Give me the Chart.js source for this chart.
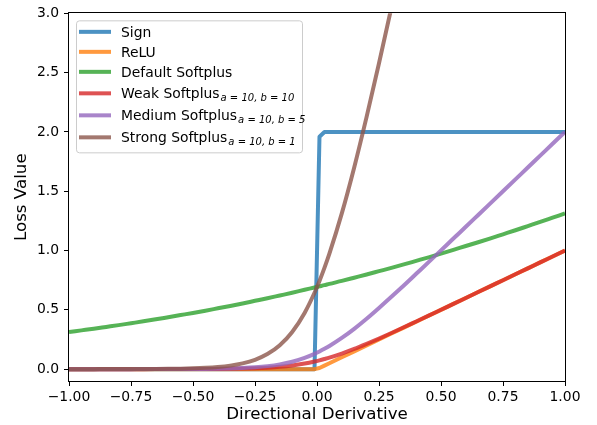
<!DOCTYPE html>
<html>
<head>
<meta charset="utf-8">
<script src="https://cdn.jsdelivr.net/npm/chart.js@4.4.0/dist/chart.umd.min.js"></script>
<style>
html, body { margin: 0; padding: 0; background: #fff; }
</style>
</head>
<body>
<canvas id="loss-chart" width="597" height="425"></canvas>
<script>
// directional derivative samples
var xValues = [-1.00, -0.95, -0.90, -0.85, -0.80, -0.75, -0.70, -0.65, -0.60, -0.55,
               -0.50, -0.45, -0.40, -0.35, -0.30, -0.25, -0.20, -0.15, -0.10, -0.05,
               -0.01, 0.01, 0.03,
               0.05, 0.10, 0.15, 0.20, 0.25, 0.30, 0.35, 0.40, 0.45, 0.50,
               0.55, 0.60, 0.65, 0.70, 0.75, 0.80, 0.85, 0.90, 0.95, 1.00];

var signData = [0, 0, 0, 0, 0, 0, 0, 0, 0, 0,
                0, 0, 0, 0, 0, 0, 0, 0, 0, 0,
                0, 1.96, 2,
                2, 2, 2, 2, 2, 2, 2, 2, 2, 2,
                2, 2, 2, 2, 2, 2, 2, 2, 2, 2];

var reluData = [0, 0, 0, 0, 0, 0, 0, 0, 0, 0,
                0, 0, 0, 0, 0, 0, 0, 0, 0, 0,
                0, 0.01, 0.03,
                0.05, 0.10, 0.15, 0.20, 0.25, 0.30, 0.35, 0.40, 0.45, 0.50,
                0.55, 0.60, 0.65, 0.70, 0.75, 0.80, 0.85, 0.90, 0.95, 1.00];

var defaultData = [0.313, 0.327, 0.341, 0.356, 0.371, 0.387, 0.403, 0.420, 0.438, 0.456,
                   0.474, 0.493, 0.513, 0.533, 0.554, 0.576, 0.598, 0.621, 0.644, 0.669,
                   0.688, 0.698, 0.708,
                   0.719, 0.744, 0.771, 0.798, 0.826, 0.854, 0.883, 0.913, 0.943, 0.974,
                   1.006, 1.038, 1.070, 1.103, 1.137, 1.171, 1.206, 1.241, 1.277, 1.313];

var weakData = [0, 0, 0, 0, 0, 0.0001, 0.0001, 0.0002, 0.0002, 0.0004,
                0.0007, 0.0011, 0.0018, 0.0030, 0.0049, 0.0079, 0.0127, 0.0201, 0.0313, 0.0474,
                0.0644, 0.0744, 0.0854,
                0.097, 0.131, 0.170, 0.213, 0.258, 0.305, 0.353, 0.402, 0.451, 0.501,
                0.550, 0.600, 0.650, 0.700, 0.750, 0.800, 0.850, 0.900, 0.950, 1.000];

var mediumData = [0, 0, 0, 0, 0.0001, 0.0001, 0.0002, 0.0003, 0.0005, 0.0008,
                  0.0013, 0.0022, 0.0036, 0.0059, 0.0097, 0.0158, 0.0254, 0.0403, 0.0627, 0.0948,
                  0.129, 0.149, 0.171,
                  0.195, 0.263, 0.340, 0.425, 0.516, 0.610, 0.706, 0.804, 0.902, 1.001,
                  1.101, 1.200, 1.300, 1.400, 1.500, 1.600, 1.700, 1.800, 1.900, 2.000];

var strongData = [0, 0.0001, 0.0001, 0.0002, 0.0003, 0.0006, 0.0009, 0.0015, 0.0025, 0.0041,
                  0.0067, 0.0110, 0.0181, 0.0297, 0.0486, 0.0789, 0.1269, 0.2014, 0.3133, 0.4741,
                  0.644, 0.744, 0.854,
                  0.974, 1.313, 1.701, 2.127, 2.579, 3.049, 3.530, 4.018, 4.511, 5.007,
                  5.504, 6.003, 6.502, 7.001, 7.501, 8.000, 8.500, 9.000, 9.500, 10.000];

var xTicks = [-1.00, -0.75, -0.50, -0.25, 0.00, 0.25, 0.50, 0.75, 1.00];
var yTicks = [0.0, 0.5, 1.0, 1.5, 2.0, 2.5, 3.0];

var seriesNames = ['Sign', 'ReLU', 'Default Softplus', 'Weak Softplus', 'Medium Softplus', 'Strong Softplus'];
var seriesSubs = ['', '', '', 'a = 10, b = 10', 'a = 10, b = 5', 'a = 10, b = 1'];
var seriesColors = ['rgba(31, 119, 180, 0.8)', 'rgba(255, 127, 14, 0.8)', 'rgba(44, 160, 44, 0.8)',
                    'rgba(214, 39, 40, 0.8)', 'rgba(148, 103, 189, 0.8)', 'rgba(140, 86, 75, 0.8)'];
var seriesData = [signData, reluData, defaultData, weakData, mediumData, strongData];

function toPoints(ys) {
    return xValues.map(function (x, i) { return {x: x, y: ys[i]}; });
}

function minus(s) {
    return s.replace('-', '\u2212');
}

Chart.defaults.font.family = "'DejaVu Sans', sans-serif";
Chart.defaults.color = '#000';

// matplotlib style frame around the axes
var framePlugin = {
    id: 'frame',
    afterDatasetsDraw: function (chart) {
        var a = chart.chartArea, ctx = chart.ctx;
        ctx.save();
        ctx.strokeStyle = '#000';
        ctx.lineWidth = 1;
        ctx.strokeRect(Math.round(a.left) - 0.5, Math.round(a.top) - 0.5,
                       Math.round(a.right - a.left) + 1, Math.round(a.bottom - a.top) + 1);
        ctx.restore();
    }
};

// legend with subscripts, drawn in the upper left corner
var legendPlugin = {
    id: 'subLegend',
    afterDraw: function (chart) {
        var ctx = chart.ctx, a = chart.chartArea;
        var bx = a.left + 7, by = a.top + 7, bw = 226, bh = 132;
        var rowY = [11.5, 31.5, 51.5, 73, 95, 117];
        ctx.save();
        ctx.beginPath();
        ctx.roundRect(bx + 0.5, by + 0.5, bw, bh, 3);
        ctx.fillStyle = 'rgba(255, 255, 255, 0.8)';
        ctx.fill();
        ctx.strokeStyle = '#cccccc';
        ctx.lineWidth = 1;
        ctx.stroke();
        for (var i = 0; i < seriesNames.length; i++) {
            var y = by + rowY[i];
            ctx.beginPath();
            ctx.moveTo(bx + 3, y);
            ctx.lineTo(bx + 35, y);
            ctx.strokeStyle = seriesColors[i];
            ctx.lineWidth = 4;
            ctx.stroke();
            ctx.fillStyle = '#000';
            ctx.textBaseline = 'alphabetic';
            ctx.font = "13.9px 'DejaVu Sans'";
            ctx.fillText(seriesNames[i], bx + 45, y + 5);
            if (seriesSubs[i]) {
                var w = ctx.measureText(seriesNames[i]).width;
                ctx.font = "italic 10px 'DejaVu Sans'";
                ctx.fillText(seriesSubs[i], bx + 45 + w + 1, y + 8);
            }
        }
        ctx.restore();
    }
};

var datasets = seriesData.map(function (ys, i) {
    return {
        label: seriesNames[i] + (seriesSubs[i] ? ' ' + seriesSubs[i] : ''),
        data: toPoints(ys),
        borderColor: seriesColors[i],
        backgroundColor: seriesColors[i],
        borderWidth: 4,
        pointRadius: 0,
        fill: false,
        clip: 0,
        borderJoinStyle: 'round',
        cubicInterpolationMode: i < 2 ? 'default' : 'monotone',
        order: seriesData.length - i
    };
});

var lossCtx = document.getElementById('loss-chart').getContext('2d');
var lossChart = new Chart(lossCtx, {
    type: 'line',
    data: { datasets: datasets },
    options: {
        responsive: false,
        animation: false,
        layout: { padding: { top: 11, right: 32, left: 0, bottom: 0 } },
        plugins: {
            legend: { display: false },
            tooltip: { enabled: false }
        },
        scales: {
            x: {
                type: 'linear',
                min: -1,
                max: 1,
                afterBuildTicks: function (scale) {
                    scale.ticks = xTicks.map(function (v) { return {value: v}; });
                },
                afterFit: function (scale) { scale.height = 44; },
                grid: { drawOnChartArea: false, drawTicks: true, tickLength: 5, color: '#000' },
                border: { display: false },
                ticks: {
                    autoSkip: false,
                    maxRotation: 0,
                    padding: 3,
                    font: { size: 13.9 },
                    callback: function (v) { return minus(Number(v).toFixed(2)); }
                },
                title: {
                    display: true,
                    text: 'Directional Derivative',
                    font: { size: 16.7 },
                    padding: { top: 0, bottom: 0 }
                }
            },
            y: {
                type: 'linear',
                min: -0.1,
                max: 3,
                afterBuildTicks: function (scale) {
                    scale.ticks = yTicks.map(function (v) { return {value: v}; });
                },
                afterFit: function (scale) { scale.width = 69; },
                grid: { drawOnChartArea: false, drawTicks: true, tickLength: 5, color: '#000' },
                border: { display: false },
                ticks: {
                    autoSkip: false,
                    padding: 5,
                    font: { size: 13.9 },
                    callback: function (v) { return minus(Number(v).toFixed(1)); }
                },
                title: {
                    display: true,
                    text: 'Loss Value',
                    font: { size: 16.7 },
                    padding: { top: 12, bottom: 0 }
                }
            }
        }
    },
    plugins: [framePlugin, legendPlugin]
});
</script>
</body>
</html>
